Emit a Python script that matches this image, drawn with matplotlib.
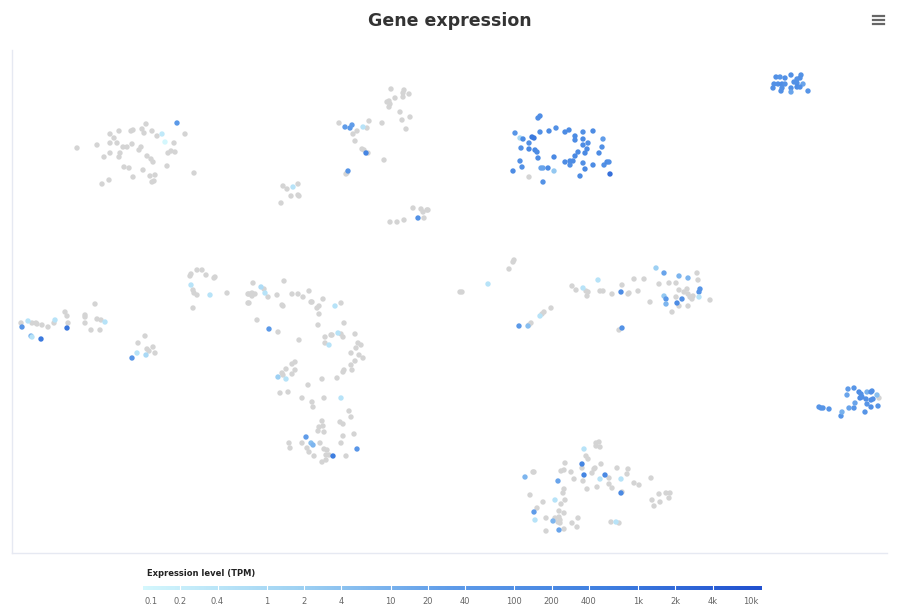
import matplotlib
matplotlib.use("Agg")
import matplotlib.pyplot as plt
import numpy as np
from matplotlib.colors import LinearSegmentedColormap, LogNorm

# t-SNE coordinates of each cell (x, y) and its expression in TPM (0 = not expressed)
cluster_top_left = [
    (177, 123, 40), (162, 134, 0.3), (185, 134, 0), (146, 124, 0), (142, 129, 0), (144, 133, 0),
    (152, 131, 0), (157, 136, 0), (131, 131, 0), (133, 130, 0), (119, 131, 0), (110, 134, 0),
    (114, 138, 0), (110, 143, 0), (117, 143, 0), (97, 145, 0), (77, 148, 0), (132, 144, 0),
    (123, 147, 0), (127, 147, 0), (141, 147, 0), (139, 150, 0), (165, 142, 0.1), (174, 143, 0),
    (110, 153, 0), (120, 153, 0), (104, 157, 0), (119, 157, 0), (147, 156, 0), (151, 159, 0),
    (153, 162, 0), (168, 153, 0), (171, 151, 0), (175, 152, 0), (167, 166, 0), (124, 167, 0),
    (129, 168, 0), (143, 170, 0), (133, 177, 0), (150, 176, 0), (155, 175, 0), (152, 182, 0),
    (154, 181, 0), (109, 180, 0), (102, 184, 0), (194, 173, 0),
]

cluster_top_mid = [
    (391, 89, 0), (404, 90, 0), (403, 93, 0), (409, 94, 0), (395, 98, 0), (403, 97, 0),
    (387, 102, 0), (389, 101, 0), (390, 104, 0), (389, 107, 0), (400, 112, 0), (410, 117, 0),
    (402, 120, 0), (406, 129, 0), (382, 123, 0), (369, 121, 0), (339, 123, 0), (345, 127, 30),
    (350, 128, 40), (352, 125, 30), (363, 127, 0.5), (367, 128, 0), (357, 131, 0), (353, 134, 0),
    (355, 141, 0), (362, 149, 0), (364, 150, 0), (366, 153, 300), (368, 153, 0), (384, 160, 0),
    (348, 171, 60), (347, 173, 0), (346, 174, 0),
    (283, 186, 0), (287, 189, 0), (293, 187, 0.5), (298, 184, 0), (291, 196, 0), (298, 195, 0),
    (299, 196, 0), (281, 203, 0),
    (413, 208, 0), (421, 209, 0), (423, 212, 0), (427, 210, 0), (428, 210, 0), (418, 218, 80),
    (424, 218, 0), (404, 220, 0), (397, 222, 0), (390, 222, 0),
]

cluster_top_blue = [
    (540, 116, 120), (538, 118, 120), (515, 133, 60), (520, 138, 1), (523, 139, 150), (532, 137, 800),
    (534, 138, 800), (540, 132, 100), (549, 131, 150), (556, 128, 100), (565, 132, 150), (569, 130, 150),
    (575, 136, 150), (575, 140, 150), (583, 132, 100), (593, 131, 150), (583, 139, 150), (588, 143, 100),
    (583, 145, 150), (529, 143, 100), (521, 148, 100), (529, 149, 200), (535, 150, 200), (537, 152, 150),
    (587, 149, 150), (585, 153, 200), (578, 152, 150), (575, 156, 200), (570, 161, 150), (573, 161, 150),
    (603, 139, 30), (602, 147, 100), (599, 153, 150), (554, 157, 200), (538, 158, 150), (520, 161, 100),
    (565, 162, 150), (570, 165, 100), (583, 163, 100), (593, 165, 150), (604, 165, 100), (607, 162, 150),
    (609, 162, 100), (522, 167, 100), (513, 171, 150), (541, 168, 20), (543, 168, 20), (548, 168, 150),
    (554, 171, 3), (585, 169, 200), (610, 174, 1500), (529, 177, 0), (580, 176, 150), (543, 182, 80),
]

cluster_top_right = [
    (776, 77, 100), (780, 77, 60), (785, 78, 100), (791, 75, 100), (801, 75, 80), (800, 78, 100),
    (797, 79, 80), (774, 84, 100), (778, 84, 100), (782, 84, 150), (785, 84, 80), (794, 82, 100),
    (797, 83, 100), (803, 84, 20), (773, 88, 100), (782, 88, 100), (781, 91, 100), (791, 88, 100),
    (797, 87, 150), (800, 87, 100), (791, 92, 20), (808, 91, 60),
]

cluster_left = [
    (21, 323, 0), (22, 327, 60), (28, 321, 0.5), (32, 323, 0), (36, 323, 0), (37, 324, 0),
    (42, 325, 0), (48, 327, 0), (54, 323, 0), (55, 320, 0.5), (31, 336, 8), (32, 337, 0.5),
    (41, 339, 800), (65, 312, 0), (67, 316, 0), (68, 323, 0), (67, 328, 1000), (85, 315, 0),
    (85, 317, 0), (85, 323, 0), (95, 304, 0), (97, 319, 0), (101, 320, 0), (105, 322, 0.5),
    (91, 330, 0), (100, 330, 0),
    (145, 336, 0), (138, 343, 0), (147, 349, 0), (149, 351, 0), (153, 347, 0), (155, 353, 0),
    (137, 353, 0.5), (146, 355, 1), (132, 358, 60),
]

cluster_center = [
    (190, 276, 0), (191, 274, 0), (197, 270, 0), (202, 270, 0), (206, 275, 0), (214, 278, 0),
    (215, 277, 0), (191, 285, 0.5), (193, 290, 0), (194, 293, 0), (197, 295, 0), (210, 295, 0.5),
    (193, 308, 0), (227, 293, 0), (248, 294, 0), (248, 303, 0),
    (253, 283, 0), (261, 287, 0.8), (264, 289, 0), (265, 293, 0.5), (249, 294, 0), (252, 293, 0),
    (255, 294, 0), (252, 296, 0), (268, 297, 0), (249, 303, 0), (277, 295, 0), (284, 281, 0),
    (292, 294, 0), (298, 294, 0), (303, 297, 0), (309, 291, 0), (311, 302, 0), (312, 302, 0),
    (323, 299, 0), (319, 306, 0), (317, 308, 0), (282, 305, 0), (283, 306, 0), (335, 306, 0.5),
    (341, 303, 0), (319, 314, 0), (257, 320, 0), (269, 329, 40), (278, 332, 0), (318, 325, 0),
    (344, 323, 0), (299, 340, 0), (325, 337, 0), (331, 335, 0), (332, 335, 0), (338, 333, 0.5),
    (341, 334, 0), (343, 337, 0), (355, 334, 0), (325, 343, 0), (329, 345, 0.5), (358, 343, 0),
    (361, 345, 0), (356, 348, 0), (351, 353, 0), (359, 355, 0), (363, 358, 0), (355, 361, 0),
    (351, 365, 0), (352, 370, 0), (292, 364, 0), (295, 362, 0), (286, 369, 0), (295, 370, 0),
    (292, 374, 0), (282, 373, 0), (283, 375, 0), (278, 377, 2), (286, 379, 0.5), (280, 393, 0),
    (288, 392, 0), (308, 385, 0), (322, 379, 0), (337, 378, 0), (343, 372, 0), (344, 370, 0),
    (302, 398, 0), (312, 402, 0), (313, 407, 0), (324, 398, 0), (341, 398, 0.5), (349, 411, 0),
    (351, 417, 0), (322, 421, 0), (319, 427, 0), (323, 426, 0), (324, 432, 0), (318, 431, 0),
    (340, 422, 0), (343, 424, 0), (343, 436, 0), (354, 434, 0), (306, 437, 30), (302, 443, 0),
    (311, 443, 5), (313, 445, 8), (289, 443, 0), (290, 448, 0), (307, 448, 0), (309, 452, 0),
    (320, 443, 0), (341, 443, 0), (324, 449, 0), (327, 450, 0), (333, 456, 600), (357, 449, 50),
    (314, 456, 0), (326, 455, 0), (329, 455, 0), (322, 462, 0), (326, 460, 0), (346, 456, 0),
]

cluster_mid_right = [
    (513, 262, 0), (514, 260, 0), (509, 269, 0), (488, 284, 0.5), (460, 292, 0), (462, 292, 0),
    (572, 286, 0), (576, 290, 0), (583, 288, 0.5), (586, 291, 0), (588, 292, 0), (587, 296, 0),
    (598, 280, 0.5), (600, 291, 0), (603, 291, 0), (612, 294, 0), (621, 292, 150), (622, 285, 0),
    (628, 294, 0), (629, 293, 0), (634, 279, 0), (638, 291, 0), (644, 279, 0), (656, 268, 2),
    (664, 273, 20), (659, 284, 0), (669, 283, 0), (676, 283, 0), (679, 276, 8), (688, 278, 8),
    (697, 273, 0), (698, 280, 0), (650, 302, 0), (664, 296, 3), (666, 299, 40), (666, 304, 8),
    (672, 312, 0), (677, 303, 150), (682, 299, 100), (676, 297, 0), (679, 290, 0), (684, 292, 0),
    (687, 289, 0), (688, 294, 0), (690, 297, 0), (693, 296, 0), (692, 299, 0), (699, 292, 60),
    (700, 289, 60), (699, 297, 0.5), (710, 300, 0), (688, 306, 0), (679, 306, 0),
    (551, 308, 0), (544, 312, 0), (542, 314, 0), (540, 316, 0.5), (531, 323, 0), (529, 325, 0),
    (528, 326, 5), (519, 326, 40), (622, 328, 80), (619, 330, 0),
]

cluster_right = [
    (819, 407, 60), (821, 408, 60), (823, 408, 60), (829, 409, 60), (841, 416, 60), (842, 412, 10),
    (849, 408, 20), (854, 408, 60), (855, 403, 20), (847, 395, 20), (848, 389, 30), (854, 388, 60),
    (859, 392, 150), (861, 394, 100), (860, 398, 150), (862, 397, 100), (866, 399, 100), (867, 392, 10),
    (871, 392, 100), (872, 391, 100), (877, 395, 5), (879, 398, 0), (871, 400, 100), (873, 399, 100),
    (867, 404, 60), (871, 407, 100), (878, 406, 60), (865, 412, 60),
]

cluster_bottom = [
    (584, 449, 0.5), (596, 443, 0), (599, 442, 0), (596, 446, 0), (600, 447, 0), (586, 456, 0),
    (588, 459, 0), (582, 464, 300), (565, 463, 0), (582, 468, 0), (595, 468, 0), (594, 469, 0),
    (601, 464, 0), (617, 468, 0), (628, 469, 0), (627, 474, 0), (592, 473, 0), (584, 475, 300),
    (605, 475, 200), (600, 479, 0.5), (609, 478, 0), (621, 479, 0.5), (561, 471, 0), (564, 470, 0),
    (571, 472, 0), (533, 472, 0), (534, 472, 0), (574, 479, 0), (558, 481, 20), (525, 477, 8),
    (583, 481, 0), (609, 484, 0), (612, 488, 0), (597, 487, 0), (587, 489, 0), (564, 489, 0),
    (563, 493, 0), (634, 483, 0), (639, 485, 0), (651, 478, 0), (621, 493, 200), (622, 492, 0),
    (530, 495, 0), (543, 502, 0), (555, 500, 0.5), (565, 500, 0), (561, 504, 0), (534, 512, 30),
    (537, 508, 0), (559, 511, 0), (564, 513, 0), (546, 518, 0), (535, 520, 0.5), (553, 521, 8),
    (555, 518, 0), (559, 517, 0), (560, 520, 0), (558, 522, 0), (560, 523, 0), (572, 523, 0),
    (578, 518, 0), (577, 527, 0), (564, 529, 0), (559, 530, 20), (546, 531, 0), (611, 522, 0),
    (616, 522, 0.5), (619, 523, 0), (652, 500, 0), (654, 506, 0), (659, 494, 0), (666, 493, 0),
    (670, 493, 0), (669, 498, 0), (660, 502, 0),
]

legend_ticks = [0.1, 0.2, 0.4, 1, 2, 4, 10, 20, 40, 100, 200, 400, 1000, 2000, 4000, 10000]
legend_labels = ["0.1", "0.2", "0.4", "1", "2", "4", "10", "20", "40", "100", "200", "400",
                 "1k", "2k", "4k", "10k"]

clusters = [cluster_top_left, cluster_top_mid, cluster_top_blue, cluster_top_right,
            cluster_left, cluster_center, cluster_mid_right, cluster_right, cluster_bottom]
cells = np.array([p for c in clusters for p in c], dtype=float)
x, y, tpm = cells[:, 0], cells[:, 1], cells[:, 2]

cmap = LinearSegmentedColormap.from_list(
    "expr", ["#d4f7fd", "#9fd2f3", "#5e9be9", "#3f7fe0", "#2150cf"])
norm = LogNorm(vmin=0.1, vmax=10000)

W, H = 904, 609
fig = plt.figure(figsize=(W / 100, H / 100), dpi=100)
fig.patch.set_facecolor("white")

ax = fig.add_axes([12 / W, 1 - 553 / H, (887 - 12) / W, (553 - 50) / H])
ax.set_xlim(12, 887)
ax.set_ylim(553, 50)
for side in ["top", "right"]:
    ax.spines[side].set_visible(False)
for side in ["left", "bottom"]:
    ax.spines[side].set_color("#e6e9f2")
    ax.spines[side].set_linewidth(1)
ax.set_xticks([])
ax.set_yticks([])

off = tpm <= 0
ax.scatter(x[off], y[off], s=15, color="#d4d4d4", edgecolors="none", zorder=2)
ax.scatter(x[~off], y[~off], s=15, c=tpm[~off], cmap=cmap, norm=norm,
           edgecolors="none", zorder=3)

fig.text(450 / W, 1 - 21 / H, "Gene expression", ha="center", va="center",
         fontsize=12.5, fontweight="bold", color="#333333", family="DejaVu Sans")

# hamburger menu icon
for yy in (15.5, 19.5, 23.5):
    fig.add_artist(plt.Line2D([873 / W, 884 / W], [1 - yy / H, 1 - yy / H],
                              color="#666666", linewidth=1.6))

# expression level legend
x0, x1 = 143, 762
lax = fig.add_axes([x0 / W, 1 - 590.5 / H, (x1 - x0) / W, 5 / H])
grad = np.logspace(-1, 4, 600).reshape(1, -1)
lax.imshow(grad, aspect="auto", cmap=cmap, norm=norm, extent=[-1, 4, 0, 1])
lax.set_xlim(-1, 4)
lax.set_ylim(0, 1)
lax.axis("off")
for t in legend_ticks[1:-1]:
    lax.axvline(np.log10(t), color="white", linewidth=0.8)

fig.text(147 / W, 1 - 574 / H, "Expression level (TPM)", ha="left", va="center",
         fontsize=6, fontweight="bold", color="#222222")
for t, lab in zip(legend_ticks, legend_labels):
    px = x0 + (np.log10(t) + 1) / 5 * (x1 - x0)
    ha = "center"
    if t == legend_ticks[0]:
        px, ha = 145, "left"
    elif t == legend_ticks[-1]:
        px, ha = 758, "right"
    fig.text(px / W, 1 - 602 / H, lab, ha=ha, va="center", fontsize=6, color="#666666")

fig.savefig("out.png", dpi=100)
